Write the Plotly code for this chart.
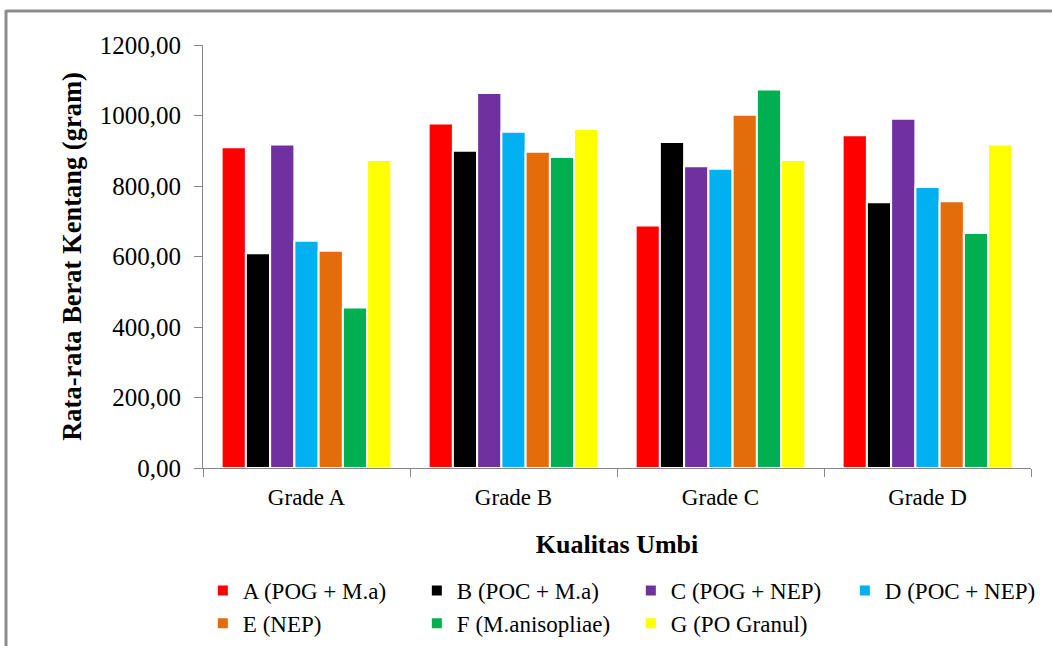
import plotly.graph_objects as go

# Tuber quality grades (x categories)
grades = ["Grade A", "Grade B", "Grade C", "Grade D"]

# Mean potato weight (gram) per treatment
a_pog_ma = [910, 977, 688, 944]
b_poc_ma = [609, 900, 925, 754]
c_pog_nep = [918, 1064, 856, 991]
d_poc_nep = [645, 954, 849, 797]
e_nep = [616, 897, 1002, 757]
f_manisopliae = [455, 882, 1074, 667]
g_po_granul = [874, 962, 874, 918]

series_names = [
    "A (POG + M.a)", "B (POC + M.a)", "C (POG + NEP)", "D (POC + NEP)",
    "E (NEP)", "F (M.anisopliae)", "G (PO Granul)",
]
series_values = [a_pog_ma, b_poc_ma, c_pog_nep, d_poc_nep, e_nep, f_manisopliae, g_po_granul]
series_colors = ["#FF0000", "#000000", "#7030A0", "#00B0F0", "#E46C0A", "#00B050", "#FFFF00"]

y_tick_vals = [0, 200, 400, 600, 800, 1000, 1200]
y_tick_text = ["0,00", "200,00", "400,00", "600,00", "800,00", "1000,00", "1200,00"]

FONT = "Liberation Serif"
AXIS_GREY = "#868686"

fig = go.Figure()
for name, vals, col in zip(series_names, series_values, series_colors):
    fig.add_trace(go.Bar(
        x=grades, y=vals, name=name,
        marker=dict(color=col, line=dict(color="white", width=2)),
    ))

W, H = 1052, 646
L, R, T, B = 203, 21, 45, 178
pw, ph = W - L - R, H - T - B


def px_x(x):
    return (x - L) / pw


def px_y(y):
    return (H - B - y) / ph


fig.update_layout(
    width=W, height=H,
    margin=dict(l=L, r=R, t=T, b=B, autoexpand=False),
    paper_bgcolor="white", plot_bgcolor="white",
    font=dict(family=FONT, color="black", size=23),
    barmode="group", bargap=0.18, bargroupgap=0.0,
    showlegend=True,
    legend=dict(
        # anchored a hair left of the plot edge so four entries fit per row
        orientation="h", x=-0.0002, y=px_y(569), xanchor="left", yanchor="top",
        entrywidth=169, entrywidthmode="pixels",
        font=dict(family=FONT, size=23, color="black"),
        traceorder="normal", itemwidth=30, tracegroupgap=0,
    ),
    xaxis=dict(
        showline=True, linecolor=AXIS_GREY, linewidth=1,
        ticks="outside", ticklen=8, tickcolor=AXIS_GREY, tickson="boundaries",
        tickfont=dict(family=FONT, size=23, color="black"), ticklabelstandoff=8,
        title=dict(text="<b>Kualitas Umbi</b>", font=dict(family=FONT, size=26, color="black"), standoff=26),
        automargin=False,
    ),
    yaxis=dict(
        range=[0, 1200], tickvals=y_tick_vals, ticktext=y_tick_text,
        showline=True, linecolor=AXIS_GREY, linewidth=1,
        ticks="outside", ticklen=8, tickcolor=AXIS_GREY,
        showgrid=False, zeroline=False,
        tickfont=dict(family=FONT, size=25, color="black"), ticklabelstandoff=8,
        title=dict(text="<b>Rata-rata Berat Kentang (gram)</b>", font=dict(family=FONT, size=26.5, color="black"), standoff=10),
        automargin=False,
    ),
    shapes=[
        # outer frame edges
        dict(type="line", xref="paper", yref="paper", x0=px_x(6), x1=px_x(1060), y0=px_y(11), y1=px_y(11),
             line=dict(color="#8C8C8C", width=3)),
        dict(type="line", xref="paper", yref="paper", x0=px_x(6), x1=px_x(6), y0=px_y(10), y1=px_y(660),
             line=dict(color="#8C8C8C", width=3)),
    ],
)

fig.write_html("out.html")
